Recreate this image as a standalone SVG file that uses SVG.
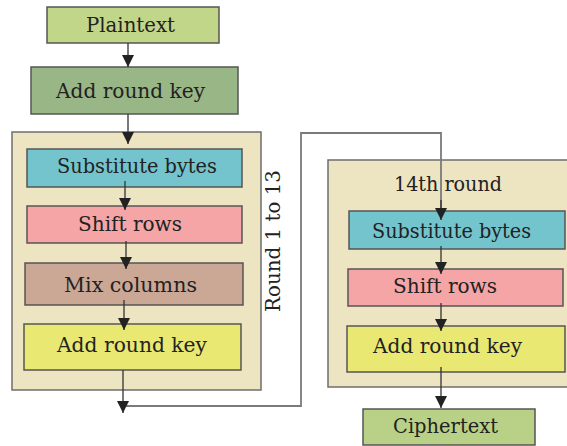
<svg xmlns="http://www.w3.org/2000/svg" width="567" height="446" viewBox="0 0 567 446">
  <defs>
    <marker id="arrow" viewBox="0 0 12 12" markerWidth="12" markerHeight="12" refX="12" refY="6" orient="auto" markerUnits="userSpaceOnUse">
      <path d="M0,0 L12,6 L0,12 Z" fill="#222"/>
    </marker>
    <style>
      .box { stroke: #555; stroke-width: 1.5; }
      .frame { fill: #ede4c1; stroke: #6e6e6e; stroke-width: 1.5; }
      .label { font-family: "DejaVu Serif", "Liberation Serif", serif; font-size: 21px; fill: #222; text-anchor: middle; }
      .flow { stroke: #333; stroke-width: 1.3; fill: none; marker-end: url(#arrow); }
      .loop { stroke: #7a7a7a; stroke-width: 1.8; fill: none; }
    </style>
  </defs>
  <rect width="567" height="446" fill="#ffffff"/>

  <!-- round frames -->
  <g id="rounds-1-13">
    <rect class="frame" x="12" y="132" width="249" height="258"/>
    <text class="label" transform="translate(280,241) rotate(-90)" textLength="142" lengthAdjust="spacingAndGlyphs">Round 1 to 13</text>
  </g>
  <g id="round-14">
    <rect class="frame" x="328" y="160" width="240" height="227"/>
    <text class="label" x="448" y="191" textLength="108" lengthAdjust="spacingAndGlyphs">14th round</text>
  </g>

  <g id="plaintext">
    <rect class="box" x="47" y="7" width="172" height="36" fill="#c2d68a"/>
    <text class="label" x="130.5" y="32" textLength="89" lengthAdjust="spacingAndGlyphs">Plaintext</text>
  </g>
  <g id="add-round-key-0">
    <rect class="box" x="31" y="67" width="207" height="47" fill="#98b686"/>
    <text class="label" x="130.5" y="98" textLength="149" lengthAdjust="spacingAndGlyphs">Add round key</text>
  </g>

  <g id="sub-bytes-1">
    <rect class="box" x="27" y="149" width="215" height="38" fill="#73c4cd"/>
    <text class="label" x="137" y="173" textLength="160" lengthAdjust="spacingAndGlyphs">Substitute bytes</text>
  </g>
  <g id="shift-rows-1">
    <rect class="box" x="27" y="206" width="215" height="37" fill="#f5a5a6"/>
    <text class="label" x="130" y="231" textLength="104" lengthAdjust="spacingAndGlyphs">Shift rows</text>
  </g>
  <g id="mix-columns-1">
    <rect class="box" x="25" y="263" width="218" height="42" fill="#cba795"/>
    <text class="label" x="130.5" y="292" textLength="133" lengthAdjust="spacingAndGlyphs">Mix columns</text>
  </g>
  <g id="add-round-key-1">
    <rect class="box" x="24" y="324" width="217" height="46" fill="#e8e872"/>
    <text class="label" x="132" y="352" textLength="150" lengthAdjust="spacingAndGlyphs">Add round key</text>
  </g>

  <g id="sub-bytes-14">
    <rect class="box" x="349" y="211" width="216" height="38" fill="#73c4cd"/>
    <text class="label" x="451.5" y="238" textLength="159" lengthAdjust="spacingAndGlyphs">Substitute bytes</text>
  </g>
  <g id="shift-rows-14">
    <rect class="box" x="348" y="269" width="215" height="37" fill="#f5a5a6"/>
    <text class="label" x="445" y="293" textLength="104" lengthAdjust="spacingAndGlyphs">Shift rows</text>
  </g>
  <g id="add-round-key-14">
    <rect class="box" x="347" y="326" width="218" height="46" fill="#e8e872"/>
    <text class="label" x="447.5" y="353" textLength="149" lengthAdjust="spacingAndGlyphs">Add round key</text>
  </g>
  <g id="ciphertext">
    <rect class="box" x="363" y="409" width="172" height="36" fill="#b9d186"/>
    <text class="label" x="445.5" y="433" textLength="105" lengthAdjust="spacingAndGlyphs">Ciphertext</text>
  </g>

  <g id="connectors">
    <path class="loop" d="M125,406 H301 V133 H441 V209"/>
    <line class="flow" x1="128" y1="43" x2="128" y2="67"/>
    <line class="flow" x1="128" y1="114" x2="128" y2="144"/>
    <line class="flow" x1="125" y1="181" x2="125" y2="210"/>
    <line class="flow" x1="126" y1="241" x2="126" y2="269"/>
    <line class="flow" x1="124" y1="300" x2="124" y2="330"/>
    <line class="flow" x1="123" y1="370" x2="123" y2="413"/>
    <line class="flow" x1="441" y1="200" x2="441" y2="220"/>
    <line class="flow" x1="441" y1="246" x2="441" y2="274"/>
    <line class="flow" x1="441" y1="303" x2="441" y2="331"/>
    <line class="flow" x1="441" y1="367" x2="441" y2="408"/>
  </g>
</svg>
